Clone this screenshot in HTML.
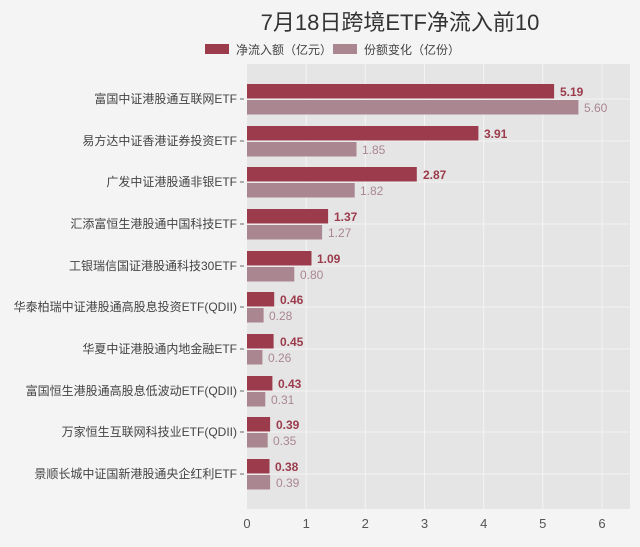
<!DOCTYPE html><html><head><meta charset="utf-8"><style>body{margin:0;background:#f4f4f4}</style></head><body>
<svg width="640" height="542" xmlns="http://www.w3.org/2000/svg" font-family="Liberation Sans, Noto Sans CJK SC, sans-serif">
<rect width="640" height="542" fill="#f4f4f4"/>
<text x="400" y="30" font-size="22" text-anchor="middle" fill="#333">7月18日跨境ETF净流入前10</text>
<rect x="205" y="44" width="24" height="10" fill="#9b3b4c"/><text x="236" y="54" font-size="12" fill="#444">净流入额（亿元）</text>
<rect x="333" y="44" width="24" height="10" fill="#aa8690"/><text x="364" y="54" font-size="12" fill="#444">份额变化（亿份）</text>
<rect x="247" y="64" width="383" height="445" fill="#e5e5e5"/>
<g stroke="#f4f4f4" stroke-width="1">
<line x1="306.2" y1="64" x2="306.2" y2="509"/><line x1="365.3" y1="64" x2="365.3" y2="509"/><line x1="424.5" y1="64" x2="424.5" y2="509"/><line x1="483.7" y1="64" x2="483.7" y2="509"/><line x1="542.8" y1="64" x2="542.8" y2="509"/><line x1="602" y1="64" x2="602" y2="509"/>
<line x1="247" y1="99" x2="630" y2="99"/><line x1="247" y1="141" x2="630" y2="141"/><line x1="247" y1="182" x2="630" y2="182"/><line x1="247" y1="224" x2="630" y2="224"/><line x1="247" y1="266" x2="630" y2="266"/><line x1="247" y1="307" x2="630" y2="307"/><line x1="247" y1="349" x2="630" y2="349"/><line x1="247" y1="391" x2="630" y2="391"/><line x1="247" y1="432" x2="630" y2="432"/><line x1="247" y1="474" x2="630" y2="474"/>
</g>
<g fill="#9b3b4c">
<rect x="247" y="84" width="307.1" height="14.5"/><rect x="247" y="126" width="231.4" height="14.5"/><rect x="247" y="167" width="169.8" height="14.5"/><rect x="247" y="209" width="81.1" height="14.5"/><rect x="247" y="251" width="64.5" height="14.5"/><rect x="247" y="292" width="27.2" height="14.5"/><rect x="247" y="334" width="26.6" height="14.5"/><rect x="247" y="376" width="25.4" height="14.5"/><rect x="247" y="417" width="23.1" height="14.5"/><rect x="247" y="459" width="22.5" height="14.5"/>
</g>
<g fill="#aa8690">
<rect x="247" y="100" width="331.4" height="14.5"/><rect x="247" y="142" width="109.5" height="14.5"/><rect x="247" y="183" width="107.7" height="14.5"/><rect x="247" y="225" width="75.1" height="14.5"/><rect x="247" y="267" width="47.3" height="14.5"/><rect x="247" y="308" width="16.6" height="14.5"/><rect x="247" y="350" width="15.4" height="14.5"/><rect x="247" y="392" width="18.3" height="14.5"/><rect x="247" y="433" width="20.7" height="14.5"/><rect x="247" y="475" width="23.1" height="14.5"/>
</g>
<g font-size="12" font-weight="bold" fill="#9b3b4c">
<text x="560" y="96">5.19</text><text x="484" y="138">3.91</text><text x="423" y="179">2.87</text><text x="334" y="221">1.37</text><text x="317" y="263">1.09</text><text x="280" y="304">0.46</text><text x="280" y="346">0.45</text><text x="278" y="388">0.43</text><text x="276" y="429">0.39</text><text x="275" y="471">0.38</text>
</g>
<g font-size="12" fill="#aa8690">
<text x="584" y="112">5.60</text><text x="362" y="154">1.85</text><text x="360" y="195">1.82</text><text x="328" y="237">1.27</text><text x="300" y="279">0.80</text><text x="269" y="320">0.28</text><text x="268" y="362">0.26</text><text x="271" y="404">0.31</text><text x="273" y="445">0.35</text><text x="276" y="487">0.39</text>
</g>
<g font-size="12" fill="#444" text-anchor="end">
<text x="237" y="103">富国中证港股通互联网ETF</text><text x="237" y="145">易方达中证香港证券投资ETF</text><text x="237" y="186">广发中证港股通非银ETF</text><text x="237" y="228">汇添富恒生港股通中国科技ETF</text><text x="237" y="270">工银瑞信国证港股通科技30ETF</text><text x="237" y="311">华泰柏瑞中证港股通高股息投资ETF(QDII)</text><text x="237" y="353">华夏中证港股通内地金融ETF</text><text x="237" y="395">富国恒生港股通高股息低波动ETF(QDII)</text><text x="237" y="436">万家恒生互联网科技业ETF(QDII)</text><text x="237" y="478">景顺长城中证国新港股通央企红利ETF</text>
</g>
<g stroke="#666"><line x1="240" y1="99" x2="244" y2="99"/><line x1="240" y1="141" x2="244" y2="141"/><line x1="240" y1="182" x2="244" y2="182"/><line x1="240" y1="224" x2="244" y2="224"/><line x1="240" y1="266" x2="244" y2="266"/><line x1="240" y1="307" x2="244" y2="307"/><line x1="240" y1="349" x2="244" y2="349"/><line x1="240" y1="391" x2="244" y2="391"/><line x1="240" y1="432" x2="244" y2="432"/><line x1="240" y1="474" x2="244" y2="474"/></g>
<g font-size="13" fill="#555" text-anchor="middle">
<text x="247" y="528">0</text><text x="306.2" y="528">1</text><text x="365.3" y="528">2</text><text x="424.5" y="528">3</text><text x="483.7" y="528">4</text><text x="542.8" y="528">5</text><text x="602" y="528">6</text>
</g>
</svg></body></html>
